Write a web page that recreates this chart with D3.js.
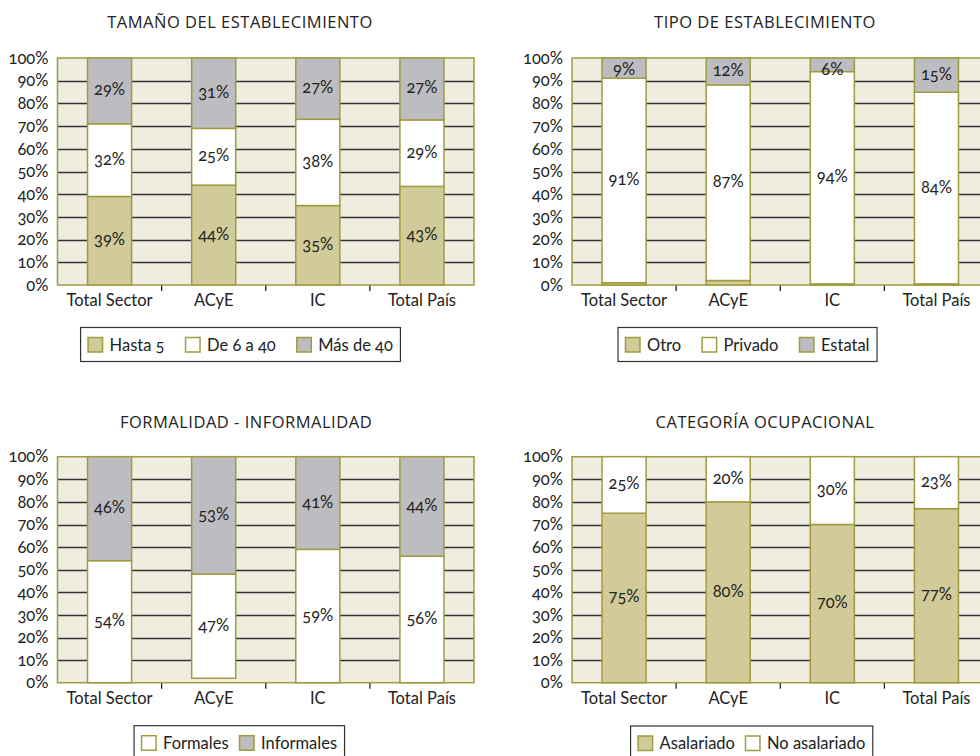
<!DOCTYPE html>
<html>
<head>
<meta charset="utf-8">
<script src="https://cdn.jsdelivr.net/npm/d3@7"></script>
<style>
  html, body { margin: 0; padding: 0; background: #fff; }
  svg { display: block; }
  .ax { font-family: Lato, "Noto Sans", sans-serif; font-variant-numeric: oldstyle-nums; font-feature-settings: "onum" 1; fill: #222; }
  .ttl { font-family: "Open Sans", "Noto Sans", sans-serif; fill: #222; }
</style>
</head>
<body>
<svg id="chart" width="980" height="756"></svg>
<script>
// ---------------- DATA ----------------
const categories = ["Total Sector", "ACyE", "IC", "Total País"];
const yTicks = [0, 10, 20, 30, 40, 50, 60, 70, 80, 90, 100];

// Tamaño del establecimiento
const hasta5   = [39, 44, 35, 43];
const de6a40   = [32, 25, 38, 29];
const masDe40  = [29, 31, 27, 27];

// Tipo de establecimiento
const otro     = [1, 2, 0.5, 0.5];
const privado  = [91, 87, 94, 84];
const estatal  = [9, 12, 6, 15];

// Formalidad - Informalidad
const sinDato    = [0, 2, 0, 0];
const formales   = [54, 47, 59, 56];
const informales = [46, 53, 41, 44];

// Categoría ocupacional
const asalariado   = [75, 80, 70, 77];
const noAsalariado = [25, 20, 30, 23];

// ---------------- STYLE ----------------
const OLIVE = "#a19b40";
const C_OLIVE = "#d0cb98";
const C_WHITE = "#ffffff";
const C_GRAY = "#bdbdc1";
const BG = "#efede0";
const FS = 16.5;

const svg = d3.select("#chart");

const panels = [
  {
    title: "TAMAÑO DEL ESTABLECIMIENTO", titleX: 240, titleY: 28,
    x0: 57.5, top: 58, bottom: 285,
    series: [
      { name: "Hasta 5", values: hasta5, fill: C_OLIVE, label: true, legend: true },
      { name: "De 6 a 40", values: de6a40, fill: C_WHITE, label: true, legend: true },
      { name: "Más de 40", values: masDe40, fill: C_GRAY, label: true, legend: true }
    ],
    legend: { cx: 240.5, y: 327.5, gap: 21 }
  },
  {
    title: "TIPO DE ESTABLECIMIENTO", titleX: 765, titleY: 28,
    x0: 572, top: 58, bottom: 285,
    series: [
      { name: "Otro", values: otro, fill: C_OLIVE, label: false, legend: true },
      { name: "Privado", values: privado, fill: C_WHITE, label: true, legend: true },
      { name: "Estatal", values: estatal, fill: C_GRAY, label: true, legend: true }
    ],
    legend: { cx: 747.5, y: 327.5, gap: 21 }
  },
  {
    title: "FORMALIDAD - INFORMALIDAD", titleX: 246, titleY: 428,
    x0: 57.5, top: 456.7, bottom: 682.7,
    series: [
      { name: "Sin dato", values: sinDato, fill: "none", hidden: true, label: false, legend: false },
      { name: "Formales", values: formales, fill: C_WHITE, label: true, legend: true },
      { name: "Informales", values: informales, fill: C_GRAY, label: true, legend: true }
    ],
    legend: { cx: 239.3, y: 725.7, gap: 11 }
  },
  {
    title: "CATEGORÍA OCUPACIONAL", titleX: 765, titleY: 428,
    x0: 572, top: 456.7, bottom: 682.7,
    series: [
      { name: "Asalariado", values: asalariado, fill: C_OLIVE, label: true, legend: true },
      { name: "No asalariado", values: noAsalariado, fill: C_WHITE, label: true, legend: true }
    ],
    legend: { cx: 751.7, y: 726, gap: 10.5 }
  }
];

const PLOT_W = 416.5;

panels.forEach(p => {
  const g = svg.append("g");
  const x = d3.scaleBand().domain(categories).range([p.x0, p.x0 + PLOT_W]).paddingInner(0).paddingOuter(0);
  const y = d3.scaleLinear().domain([0, 100]).range([p.bottom, p.top]);
  const barW = x.bandwidth() * 0.423;

  // title
  g.append("text").attr("class", "ttl")
    .attr("x", p.titleX).attr("y", p.titleY)
    .attr("text-anchor", "middle").attr("font-size", 16.5)
    .attr("letter-spacing", 0.5)
    .text(p.title);

  // plot background
  g.append("rect")
    .attr("x", p.x0).attr("y", y(100))
    .attr("width", PLOT_W).attr("height", y(0) - y(100))
    .attr("fill", BG);

  // gridlines
  g.append("g").selectAll("line")
    .data(yTicks.filter(d => d > 0 && d < 100))
    .join("line")
    .attr("x1", p.x0).attr("x2", p.x0 + PLOT_W)
    .attr("y1", d => Math.round(y(d)) + 0.5).attr("y2", d => Math.round(y(d)) + 0.5)
    .attr("stroke", "#333").attr("stroke-width", 1.4);

  // plot border
  g.append("rect")
    .attr("x", p.x0).attr("y", y(100))
    .attr("width", PLOT_W).attr("height", y(0) - y(100))
    .attr("fill", "none").attr("stroke", OLIVE).attr("stroke-width", 1.5);

  // stacked data (normalized to 100%)
  const keys = p.series.map(s => s.name);
  const rows = categories.map((c, i) => {
    const total = d3.sum(p.series, s => s.values[i]);
    const r = { cat: c };
    p.series.forEach(s => { r[s.name] = s.values[i] / total * 100; r[s.name + "_raw"] = s.values[i]; });
    return r;
  });
  const stacked = d3.stack().keys(keys)(rows);

  stacked.forEach((layer, li) => {
    const s = p.series[li];
    if (s.hidden) return;
    g.append("g").selectAll("rect").data(layer).join("rect")
      .attr("x", d => x(d.data.cat) + (x.bandwidth() - barW) / 2)
      .attr("y", d => y(d[1]))
      .attr("width", barW)
      .attr("height", d => Math.max(0, y(d[0]) - y(d[1])))
      .attr("fill", s.fill)
      .attr("stroke", OLIVE).attr("stroke-width", 1.5);
  });

  // value labels
  stacked.forEach((layer, li) => {
    const s = p.series[li];
    if (!s.label) return;
    g.append("g").selectAll("text").data(layer).join("text")
      .attr("class", "ax")
      .attr("x", d => x(d.data.cat) + x.bandwidth() / 2)
      .attr("y", d => Math.max(p.top + 11, (y(d[0]) + y(d[1])) / 2 - 1.5))
      .attr("text-anchor", "middle")
      .attr("dominant-baseline", "central")
      .attr("font-size", FS)
      .text(d => d.data[s.name + "_raw"] + "%");
  });

  // y axis
  const yAxis = d3.axisLeft(y).tickValues(yTicks).tickFormat(d => d + "%").tickSize(0).tickPadding(9);
  const ya = g.append("g").attr("transform", `translate(${p.x0},0)`).call(yAxis);
  ya.select(".domain").remove();
  ya.selectAll("text").attr("class", "ax").attr("font-size", FS).attr("fill", "#222");

  // category separators
  g.append("g").selectAll("line")
    .data(categories.slice(0, -1))
    .join("line")
    .attr("x1", d => x(d) + x.bandwidth()).attr("x2", d => x(d) + x.bandwidth())
    .attr("y1", p.bottom + 0.5).attr("y2", p.bottom + 6)
    .attr("stroke", "#111").attr("stroke-width", 1.2);

  // category labels
  g.append("g").selectAll("text")
    .data(categories).join("text")
    .attr("class", "ax")
    .attr("x", d => x(d) + x.bandwidth() / 2)
    .attr("y", p.bottom + 21)
    .attr("text-anchor", "middle")
    .attr("font-size", FS)
    .text(d => d);

  // legend
  const items = p.series.filter(s => s.legend);
  const leg = g.append("g");
  const sw = 14.5, swTxt = 7, padX = 7.5, boxH = 34;
  let cx = 0;
  const placed = [];
  items.forEach((s, i) => {
    const t = leg.append("text").attr("class", "ax")
      .attr("font-size", FS)
      .attr("dominant-baseline", "central")
      .text(s.name);
    const w = t.node().getComputedTextLength();
    placed.push({ s, t, start: cx, w });
    cx += sw + swTxt + w + (i < items.length - 1 ? p.legend.gap : 0);
  });
  const boxW = cx + padX * 2;
  const bx = p.legend.cx - boxW / 2;
  leg.insert("rect", ":first-child")
    .attr("x", bx).attr("y", p.legend.y)
    .attr("width", boxW).attr("height", boxH)
    .attr("fill", "#fff").attr("stroke", "#333").attr("stroke-width", 1.2);
  placed.forEach(o => {
    const sx = bx + padX + o.start;
    leg.append("rect")
      .attr("x", sx).attr("y", p.legend.y + 10)
      .attr("width", sw).attr("height", sw)
      .attr("fill", o.s.fill).attr("stroke", OLIVE).attr("stroke-width", 1.5);
    o.t.attr("x", sx + sw + swTxt).attr("y", p.legend.y + 17);
  });
});
</script>
</body>
</html>
